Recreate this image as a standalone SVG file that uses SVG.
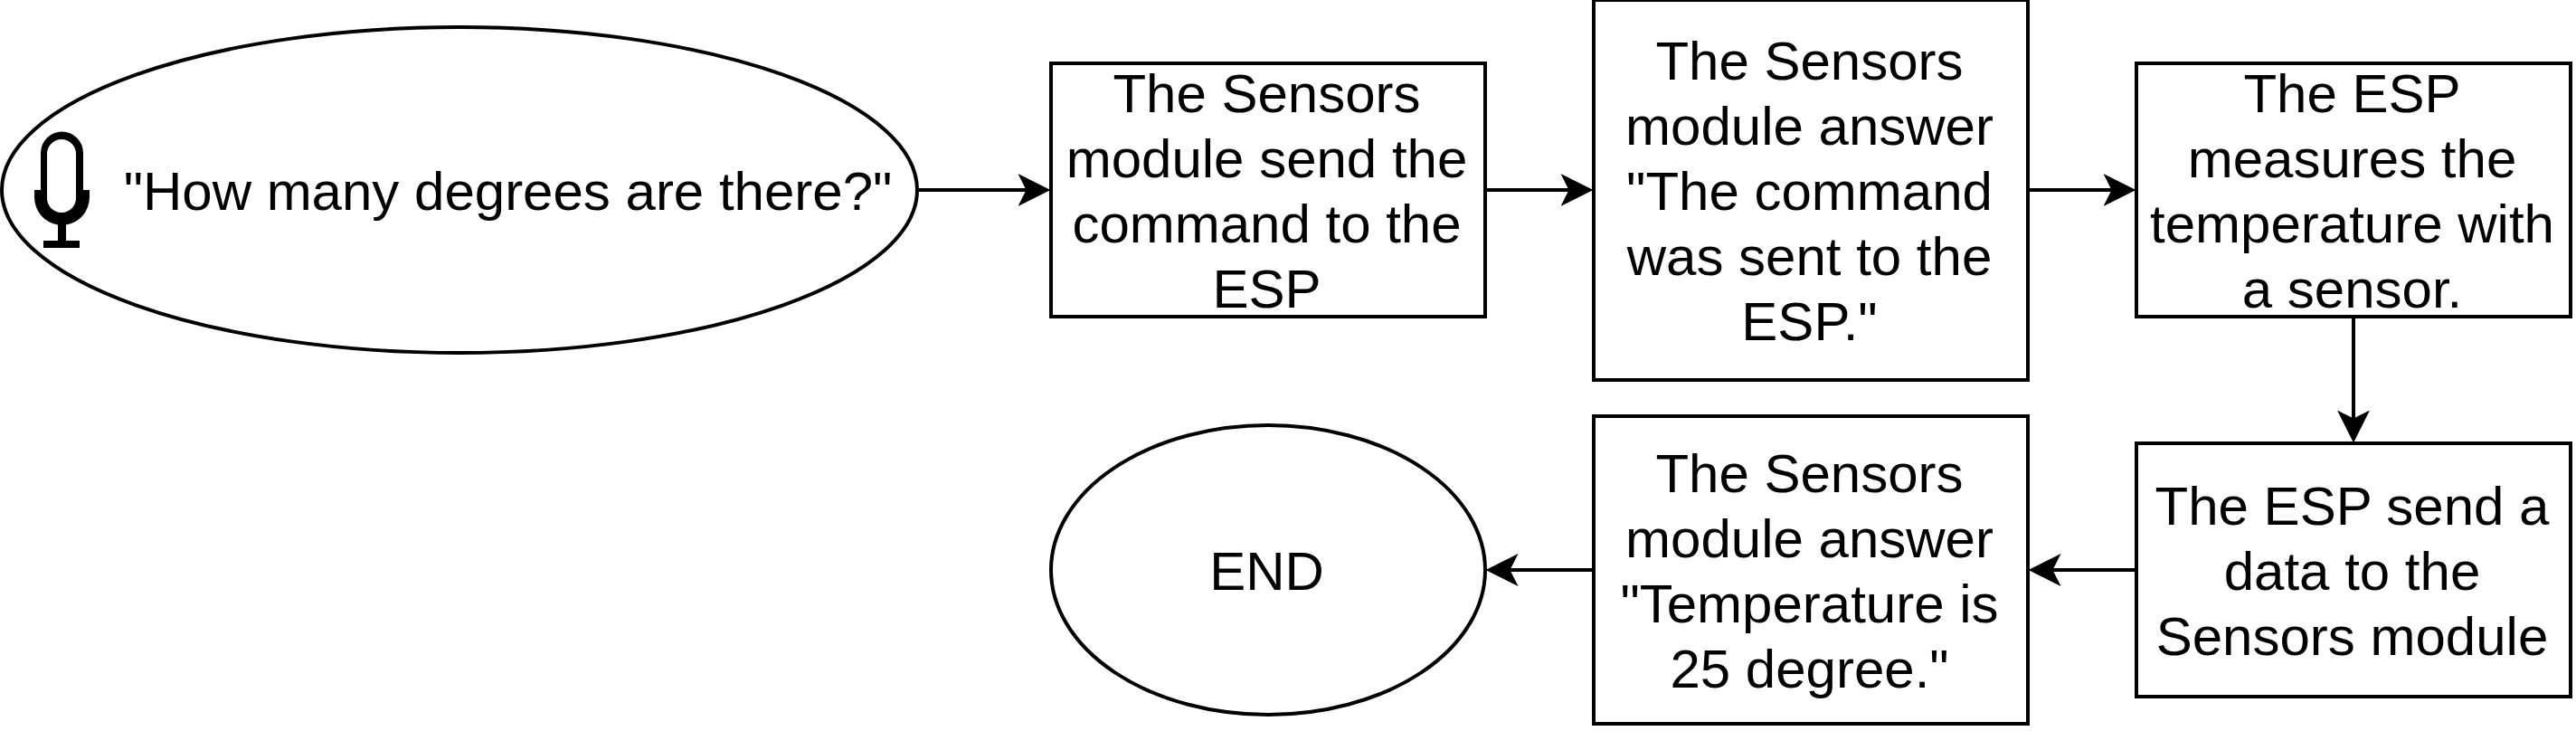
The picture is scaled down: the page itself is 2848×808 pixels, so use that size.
<svg xmlns="http://www.w3.org/2000/svg" width="2848" height="808" viewBox="0 0 2848 808">
<style>
.s{fill:#fff;stroke:#000;stroke-width:4}
text{font-family:"Liberation Sans",Arial,Helvetica,sans-serif;font-size:60px;fill:#000;text-anchor:middle}
.c{fill:none;stroke:#000;stroke-width:4;marker-end:url(#a)}
</style>
<defs><marker id="a" markerUnits="userSpaceOnUse" markerWidth="36" markerHeight="36" refX="16" refY="18" orient="auto" viewBox="0 0 36 36"><path d="M0 0L36 18L0 36L9 18Z" fill="#000"/></marker></defs>
<rect width="2848" height="808" fill="#fff"/>
<g id="start"><ellipse class="s" cx="508" cy="210" rx="506" ry="180"/>
<path id="mic" fill-rule="evenodd" fill="#000" d="M45 210V169A23.500 23.500 0 0 1 92 169V210H99V218A30.500 31 0 0 1 73 248.500V266H88V274H48V266H64V248.500A30.500 31 0 0 1 38 218V210ZM52 170V219A16 16 0 0 0 84 219V170A16 16 0 0 0 52 170Z"/>
<text x="561.500" y="232">"How many degrees are there?"</text></g>
<g id="n1"><rect class="s" x="1162" y="70" width="480" height="280"/>
<text x="1400.500" y="124">The Sensors</text><text x="1400.500" y="196">module send the</text><text x="1400.500" y="268">command to the</text><text x="1400.500" y="340">ESP</text></g>
<g id="n2"><rect class="s" x="1762" y="0" width="480" height="420"/>
<text x="2000.500" y="88">The Sensors</text><text x="2000.500" y="160">module answer</text><text x="2000.500" y="232">"The command</text><text x="2000.500" y="304">was sent to the</text><text x="2000.500" y="376">ESP."</text></g>
<g id="n3"><rect class="s" x="2362" y="70" width="480" height="280"/>
<text x="2600.500" y="124">The ESP</text><text x="2600.500" y="196">measures the</text><text x="2600.500" y="268">temperature with</text><text x="2600.500" y="340">a sensor.</text></g>
<g id="n4"><rect class="s" x="2362" y="490" width="480" height="280"/>
<text x="2600.500" y="580">The ESP send a</text><text x="2600.500" y="652">data to the</text><text x="2600.500" y="724">Sensors module</text></g>
<g id="n5"><rect class="s" x="1762" y="460" width="480" height="340"/>
<text x="2000.500" y="544">The Sensors</text><text x="2000.500" y="616">module answer</text><text x="2000.500" y="688">"Temperature is</text><text x="2000.500" y="760">25 degree."</text></g>
<g id="end"><ellipse class="s" cx="1402" cy="630" rx="240" ry="160"/><text x="1400.500" y="652">END</text></g>
<g id="connectors">
<path class="c" d="M1016 210H1141.500"/>
<path class="c" d="M1644 210H1741.500"/>
<path class="c" d="M2244 210H2341.500"/>
<path class="c" d="M2602 352V469.500"/>
<path class="c" d="M2360 630H2262.500"/>
<path class="c" d="M1760 630H1662.500"/>
</g>
</svg>
